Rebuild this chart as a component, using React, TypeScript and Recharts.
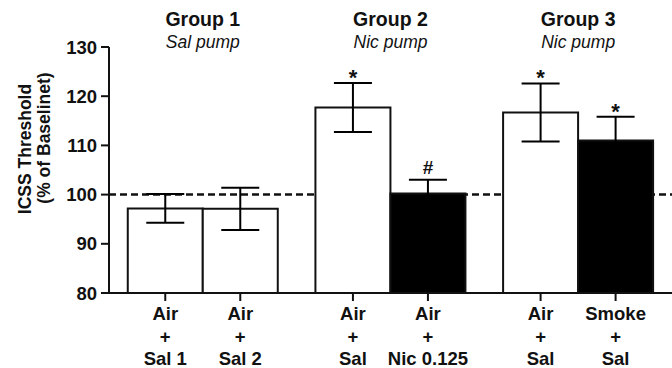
import { BarChart, Bar, XAxis, YAxis, ErrorBar, LabelList, ReferenceLine, Cell } from 'recharts';

// groups (top titles)
const groups = ['Group 1', 'Group 2', 'Group 3'];
const pumps = ['Sal pump', 'Nic pump', 'Nic pump'];

// left bar of each group
const exposureA = ['Air', 'Air', 'Air'];
const treatmentA = ['Sal 1', 'Sal', 'Sal'];
const meanA = [97.2, 117.7, 116.7];
const semA = [2.9, 5.0, 5.9];
const markA = ['', '*', '*'];

// right bar of each group
const exposureB = ['Air', 'Air', 'Smoke'];
const treatmentB = ['Sal 2', 'Nic 0.125', 'Sal'];
const meanB = [97.1, 100.2, 111.0];
const semB = [4.3, 2.8, 4.8];
const markB = ['', '#', '*'];

const yTicks = [80, 90, 100, 110, 120, 130];
const baselineValue = 100;

const INK = '#111';
const FONT = '"Liberation Sans", Arial, Helvetica, sans-serif';
const FILL_A = ['#ffffff', '#ffffff', '#ffffff'];
const FILL_B = ['#ffffff', '#000000', '#000000'];

const data = groups.map((g, i) => ({
    group: g,
    pump: pumps[i],
    a: meanA[i],
    aErr: semA[i],
    aLabel: `${exposureA[i]}|${treatmentA[i]}`,
    aMark: markA[i],
    b: meanB[i],
    bErr: semB[i],
    bLabel: `${exposureB[i]}|${treatmentB[i]}`,
    bMark: markB[i],
}));

const boldText = { fontFamily: FONT, fontWeight: 700, fontSize: 18.5, fill: INK };

function rectOf(props: any) {
    const vb = props.viewBox ?? props;
    return { x: Number(vb.x), y: Number(vb.y), width: Number(vb.width), height: Number(vb.height) };
}

// condition label under each bar, with its own tick mark
function ConditionLabel(props: any) {
    const { x, y, width, height } = rectOf(props);
    const cx = x + width / 2;
    const base = y + height;
    const [top, bottom] = String(props.value).split('|');
    return (
        <g>
            <line x1={cx} x2={cx} y1={base} y2={base + 8} stroke={INK} strokeWidth={2} />
            <text x={cx} y={base + 27} textAnchor="middle" style={boldText}>{top}</text>
            <text x={cx} y={base + 50} textAnchor="middle" style={boldText}>+</text>
            <text x={cx} y={base + 72} textAnchor="middle" style={boldText}>{bottom}</text>
        </g>
    );
}

// significance mark above the error bar
const makeMark = (means: number[], sems: number[]) => (props: any) => {
    if (!props.value) return null;
    const { x, y, width, height } = rectOf(props);
    const i = props.index;
    const pxPerUnit = height / (means[i] - yTicks[0]);
    const errTop = y - sems[i] * pxPerUnit;
    const isStar = props.value === '*';
    return (
        <text
            x={x + width / 2}
            y={isStar ? errTop + 2 : errTop - 6}
            textAnchor="middle"
            style={{ ...boldText, fontSize: isStar ? 22 : 19 }}
        >
            {props.value}
        </text>
    );
};

function GroupTick(props: any) {
    const { x, y, index } = props;
    return (
        <g>
            <text x={x} y={y - 21} textAnchor="middle" style={{ ...boldText, fontSize: 19.5 }}>{groups[index]}</text>
            <text x={x} y={y + 1} textAnchor="middle" style={{ fontFamily: FONT, fontStyle: 'italic', fontSize: 17.5, fill: INK }}>
                {pumps[index]}
            </text>
        </g>
    );
}

function YTitle() {
    return (
        <g>
            <text x={31} y={149} transform="rotate(-90, 31, 149)" textAnchor="middle" style={{ ...boldText, fontSize: 17.5 }}>
                ICSS Threshold
            </text>
            <text x={50} y={138} transform="rotate(-90, 50, 138)" textAnchor="middle" style={{ ...boldText, fontSize: 17.5 }}>
                (% of Baselinet)
            </text>
        </g>
    );
}

export default function App() {
    return (
        <div style={{ position: 'absolute', left: 0, top: 0, background: '#fff' }}>
            <BarChart
                width={672}
                height={368}
                data={data}
                margin={{ top: 0, right: 0, bottom: 0, left: 0 }}
                barGap={0}
                barCategoryGap="10%"
            >
                <XAxis
                    dataKey="group"
                    height={75}
                    tick={false}
                    tickLine={false}
                    axisLine={{ stroke: INK, strokeWidth: 2 }}
                />
                <XAxis
                    xAxisId="top"
                    dataKey="group"
                    orientation="top"
                    height={47}
                    axisLine={false}
                    tickLine={false}
                    tickSize={0}
                    tickMargin={0}
                    tick={<GroupTick />}
                />
                <YAxis
                    width={109}
                    domain={[80, 130]}
                    ticks={yTicks}
                    tickSize={8}
                    tickMargin={4}
                    tickLine={{ stroke: INK, strokeWidth: 2 }}
                    axisLine={{ stroke: INK, strokeWidth: 2 }}
                    tick={{ ...boldText }}
                    label={{ content: <YTitle /> }}
                />
                {/* dashed baseline sits behind the bars */}
                <ReferenceLine
                    y={baselineValue}
                    stroke={INK}
                    strokeWidth={2.5}
                    strokeDasharray="7 4"
                    zIndex={50}
                />
                <Bar dataKey="a" stroke={INK} strokeWidth={2} isAnimationActive={false}>
                    {data.map((_, i) => <Cell key={i} fill={FILL_A[i]} />)}
                    <ErrorBar dataKey="aErr" width={19} strokeWidth={2} stroke="#000" direction="y" />
                    <LabelList dataKey="aLabel" content={<ConditionLabel />} />
                    <LabelList dataKey="aMark" content={makeMark(meanA, semA)} />
                </Bar>
                <Bar dataKey="b" stroke={INK} strokeWidth={2} isAnimationActive={false}>
                    {data.map((_, i) => <Cell key={i} fill={FILL_B[i]} />)}
                    <ErrorBar dataKey="bErr" width={19} strokeWidth={2} stroke="#000" direction="y" />
                    <LabelList dataKey="bLabel" content={<ConditionLabel />} />
                    <LabelList dataKey="bMark" content={makeMark(meanB, semB)} />
                </Bar>
            </BarChart>
        </div>
    );
}
